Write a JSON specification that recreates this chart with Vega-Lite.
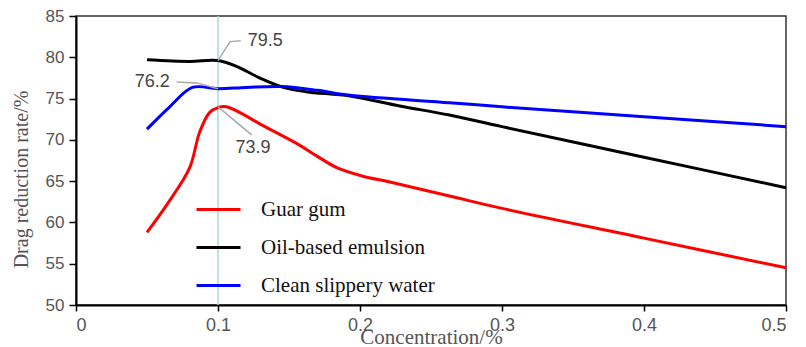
{
  "$schema": "https://vega.github.io/schema/vega-lite/v6.json",
  "width": 710,
  "height": 289,
  "autosize": {"type": "none"},
  "padding": {"left": 76, "top": 16, "right": 20, "bottom": 42},
  "background": "white",
  "config": {
    "view": {"stroke": "#333333", "strokeWidth": 1.5},
    "axis": {
      "grid": false,
      "domainColor": "#000000",
      "domainWidth": 2,
      "tickColor": "#000000",
      "tickWidth": 1.5,
      "tickSize": 6,
      "labelFont": "Liberation Sans",
      "labelFontSize": 17,
      "labelColor": "#555555",
      "titleFont": "Liberation Serif",
      "titleFontSize": 20,
      "titleFontWeight": "normal",
      "titleColor": "#555555"
    },
    "legend": {
      "labelFont": "Liberation Serif",
      "labelFontSize": 21,
      "labelColor": "#111111",
      "labelLimit": 400
    }
  },
  "datasets": {
    "curves": [
      {"series": "Guar gum", "c": 0.05, "r": 58.8},
      {"series": "Guar gum", "c": 0.065, "r": 62.4},
      {"series": "Guar gum", "c": 0.08, "r": 66.6},
      {"series": "Guar gum", "c": 0.087, "r": 70.9},
      {"series": "Guar gum", "c": 0.094, "r": 73.3},
      {"series": "Guar gum", "c": 0.1, "r": 73.9},
      {"series": "Guar gum", "c": 0.106, "r": 74.0},
      {"series": "Guar gum", "c": 0.132, "r": 71.7},
      {"series": "Guar gum", "c": 0.155, "r": 69.6},
      {"series": "Guar gum", "c": 0.17, "r": 68.0},
      {"series": "Guar gum", "c": 0.184, "r": 66.6},
      {"series": "Guar gum", "c": 0.202, "r": 65.6},
      {"series": "Guar gum", "c": 0.221, "r": 64.9},
      {"series": "Guar gum", "c": 0.263, "r": 63.2},
      {"series": "Guar gum", "c": 0.3, "r": 61.7},
      {"series": "Guar gum", "c": 0.4, "r": 58.1},
      {"series": "Guar gum", "c": 0.5, "r": 54.5},
      {"series": "Oil-based emulsion", "c": 0.05, "r": 79.7},
      {"series": "Oil-based emulsion", "c": 0.08, "r": 79.5},
      {"series": "Oil-based emulsion", "c": 0.1, "r": 79.6},
      {"series": "Oil-based emulsion", "c": 0.113, "r": 78.9},
      {"series": "Oil-based emulsion", "c": 0.13, "r": 77.45},
      {"series": "Oil-based emulsion", "c": 0.146, "r": 76.36},
      {"series": "Oil-based emulsion", "c": 0.162, "r": 75.83},
      {"series": "Oil-based emulsion", "c": 0.193, "r": 75.3},
      {"series": "Oil-based emulsion", "c": 0.228, "r": 74.1},
      {"series": "Oil-based emulsion", "c": 0.263, "r": 73.0},
      {"series": "Oil-based emulsion", "c": 0.3, "r": 71.6},
      {"series": "Oil-based emulsion", "c": 0.4, "r": 67.9},
      {"series": "Oil-based emulsion", "c": 0.5, "r": 64.2},
      {"series": "Clean slippery water", "c": 0.05, "r": 71.3},
      {"series": "Clean slippery water", "c": 0.066, "r": 74.0},
      {"series": "Clean slippery water", "c": 0.082, "r": 76.35},
      {"series": "Clean slippery water", "c": 0.1, "r": 76.2},
      {"series": "Clean slippery water", "c": 0.12, "r": 76.35},
      {"series": "Clean slippery water", "c": 0.145, "r": 76.45},
      {"series": "Clean slippery water", "c": 0.17, "r": 76.0},
      {"series": "Clean slippery water", "c": 0.193, "r": 75.4},
      {"series": "Clean slippery water", "c": 0.263, "r": 74.5},
      {"series": "Clean slippery water", "c": 0.3, "r": 74.0},
      {"series": "Clean slippery water", "c": 0.4, "r": 72.8},
      {"series": "Clean slippery water", "c": 0.5, "r": 71.6}
    ],
    "leaders": [
      {"id": "a", "c": 0.1, "r": 79.6},
      {"id": "a", "c": 0.1085, "r": 81.9},
      {"id": "a", "c": 0.116, "r": 82.0},
      {"id": "b", "c": 0.1, "r": 76.2},
      {"id": "b", "c": 0.085, "r": 76.9},
      {"id": "b", "c": 0.0709, "r": 77.0},
      {"id": "c", "c": 0.1, "r": 74.0},
      {"id": "c", "c": 0.1237, "r": 70.6}
    ]
  },
  "layer": [
    {
      "data": {"values": [{"c": 0.1}]},
      "mark": {"type": "rule", "color": "#a9d8e2", "strokeWidth": 1.5},
      "encoding": {"x": {"field": "c", "type": "quantitative"}}
    },
    {
      "data": {"name": "curves"},
      "mark": {"type": "line", "interpolate": "catmull-rom", "strokeWidth": 3},
      "encoding": {
        "x": {
          "field": "c", "type": "quantitative",
          "scale": {"domain": [0, 0.5], "nice": false, "zero": false},
          "axis": {"values": [0, 0.1, 0.2, 0.3, 0.4, 0.5], "format": "~g", "title": "Concentration/%", "titleY": 38, "titleBaseline": "alphabetic", "titleFontSize": 21, "labelPadding": 5, "labelFontSize": 18}
        },
        "y": {
          "field": "r", "type": "quantitative",
          "scale": {"domain": [50, 85], "nice": false, "zero": false},
          "axis": {"values": [50, 55, 60, 65, 70, 75, 80, 85], "title": "Drag reduction rate/%", "titleX": -55, "titleY": 163, "titleAngle": 270, "titleBaseline": "middle", "titleAlign": "center", "tickSize": 7, "labelPadding": 5}
        },
        "color": {
          "field": "series", "type": "nominal",
          "scale": {"domain": ["Guar gum", "Oil-based emulsion", "Clean slippery water"], "range": ["#ff0000", "#000000", "#0000ff"]},
          "legend": {"title": null, "orient": "none", "legendX": 119, "legendY": 170, "symbolType": "stroke", "symbolSize": 1936, "symbolStrokeWidth": 3, "labelOffset": 19, "rowPadding": 4, "padding": 0}
        }
      }
    },
    {
      "data": {"name": "leaders"},
      "mark": {"type": "line", "color": "#aaaaaa", "strokeWidth": 1.5},
      "encoding": {
        "x": {"field": "c", "type": "quantitative"},
        "y": {"field": "r", "type": "quantitative"},
        "detail": {"field": "id"}
      }
    },
    {
      "data": {"values": [{"c": 0.121, "r": 82.0, "label": "79.5"}]},
      "mark": {"type": "text", "align": "left", "baseline": "middle", "font": "Liberation Sans", "fontSize": 18, "color": "#444444"},
      "encoding": {"x": {"field": "c", "type": "quantitative"}, "y": {"field": "r", "type": "quantitative"}, "text": {"field": "label"}}
    },
    {
      "data": {"values": [{"c": 0.066, "r": 77.0, "label": "76.2"}]},
      "mark": {"type": "text", "align": "right", "baseline": "middle", "font": "Liberation Sans", "fontSize": 18, "color": "#444444"},
      "encoding": {"x": {"field": "c", "type": "quantitative"}, "y": {"field": "r", "type": "quantitative"}, "text": {"field": "label"}}
    },
    {
      "data": {"values": [{"c": 0.1247, "r": 69.0, "label": "73.9"}]},
      "mark": {"type": "text", "align": "center", "baseline": "middle", "font": "Liberation Sans", "fontSize": 18, "color": "#444444"},
      "encoding": {"x": {"field": "c", "type": "quantitative"}, "y": {"field": "r", "type": "quantitative"}, "text": {"field": "label"}}
    }
  ]
}
